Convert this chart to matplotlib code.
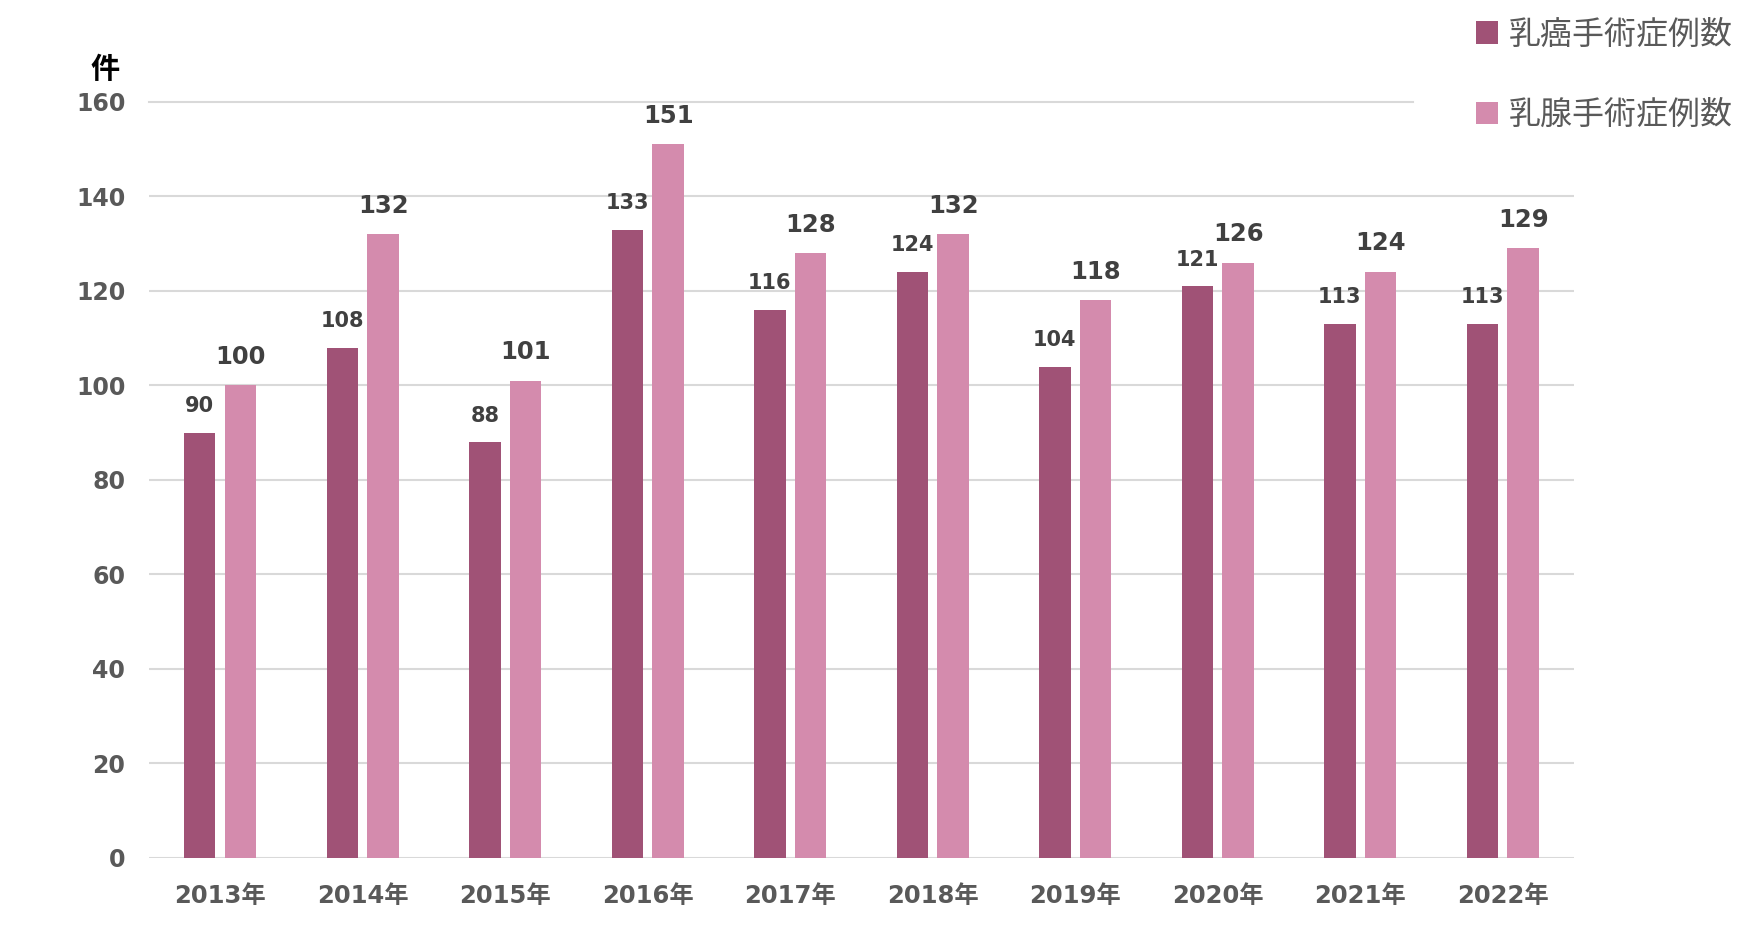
import numpy as np
import matplotlib.pyplot as plt

plt.rcParams['font.family'] = ['DejaVu Sans', 'Noto Sans CJK JP']

years = ["2013年", "2014年", "2015年", "2016年", "2017年",
         "2018年", "2019年", "2020年", "2021年", "2022年"]
cancer = [90, 108, 88, 133, 116, 124, 104, 121, 113, 113]
gland = [100, 132, 101, 151, 128, 132, 118, 126, 124, 129]
yticks = [0, 20, 40, 60, 80, 100, 120, 140, 160]

c_dark = '#a05276'
c_light = '#d48bad'
grid_c = '#d9d9d9'

fig = plt.figure(figsize=(17.4, 9.32), dpi=100)
ax = fig.add_axes([0.0856, 0.0794, 0.819, 0.8112])

x = np.arange(len(years))
w = 0.22
off = 0.143
ax.bar(x - off, cancer, w, color=c_dark, label="乳癌手術症例数", zorder=3)
ax.bar(x + off, gland, w, color=c_light, label="乳腺手術症例数", zorder=3)

# data labels
for xi, v in zip(x, cancer):
    ax.annotate(str(v), (xi - off, v), xytext=(0, 12), textcoords='offset points',
                ha='center', va='bottom', fontsize=15, fontweight='bold', color='#404040')
for xi, v in zip(x, gland):
    ax.annotate(str(v), (xi + off, v), xytext=(0, 12), textcoords='offset points',
                ha='center', va='bottom', fontsize=17.5, fontweight='bold', color='#404040')

ax.set_xlim(-0.5, len(years) - 0.5)
ax.set_ylim(0, 160)
for y in yticks:
    if y == 160:
        ax.axhline(y, xmin=0, xmax=0.887, color=grid_c, lw=1.5, zorder=1, clip_on=False)
    else:
        ax.axhline(y, color=grid_c, lw=1.5, zorder=1)

ax.set_xticks(x)
ax.set_xticklabels(years)
ax.set_yticks(yticks)
ax.tick_params(axis='both', length=0, labelcolor='#595959')
ax.tick_params(axis='y', pad=17, labelsize=17)
ax.tick_params(axis='x', pad=19, labelsize=17.5)
for lab in ax.get_xticklabels() + ax.get_yticklabels():
    lab.set_fontweight('bold')
for s in ax.spines.values():
    s.set_visible(False)

fig.text(105 / 1740, 1 - 70 / 932, "件", fontsize=21, fontweight='bold',
         color='black', ha='center', va='center')

leg = fig.legend(loc='upper left', bbox_to_anchor=(1463 / 1740, 1 - 7 / 932),
                 frameon=False, fontsize=23, labelcolor='#595959',
                 handlelength=0.7, handleheight=0.7, handletextpad=0.33,
                 labelspacing=1.55, borderaxespad=0)

fig.savefig("out.png", dpi=100)
